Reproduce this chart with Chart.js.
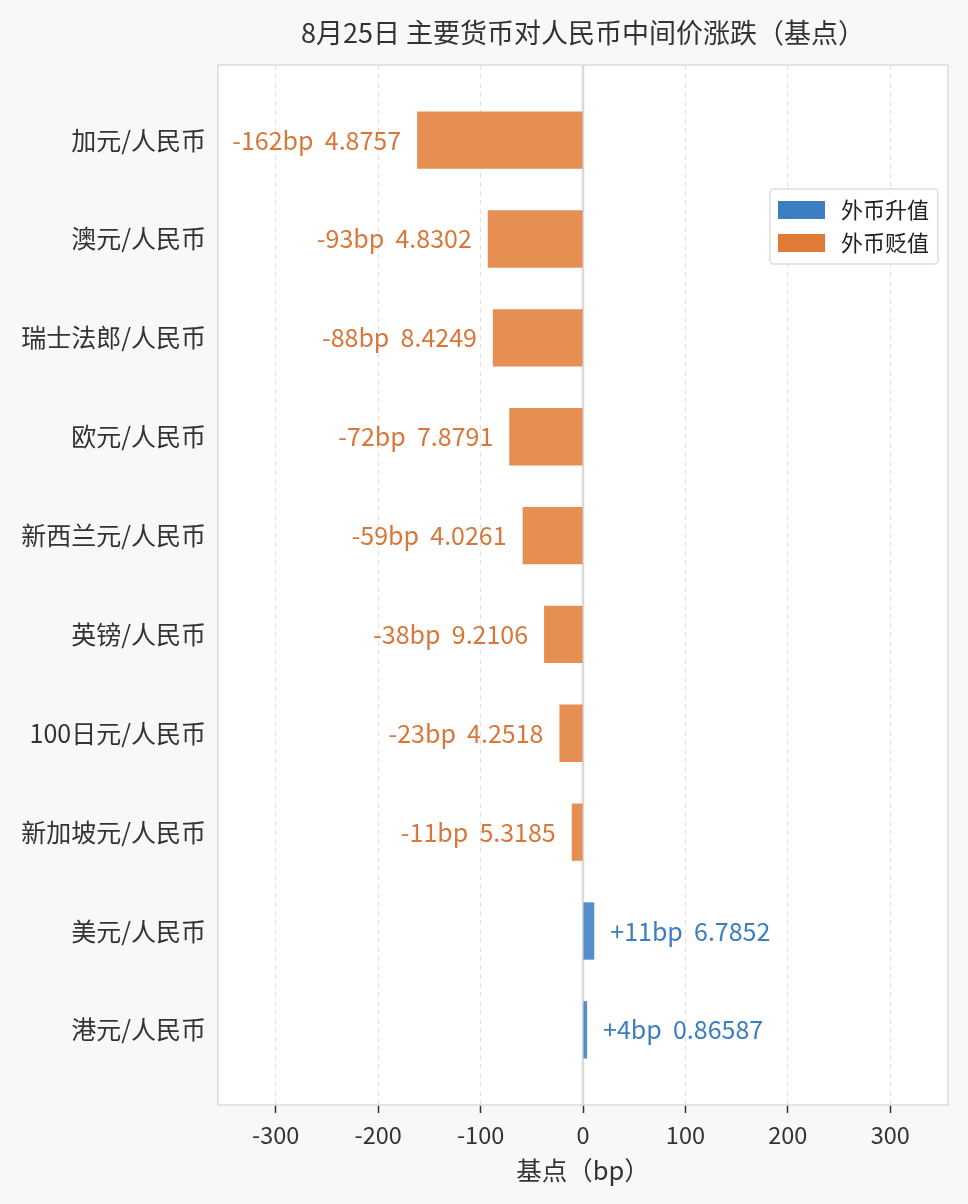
<!DOCTYPE html>
<html>
<head>
<meta charset="utf-8">
<script src="https://cdn.jsdelivr.net/npm/chart.js@4.4.1/dist/chart.umd.min.js"></script>
<style>
html,body{margin:0;padding:0;background:#f7f8fa;}
#wrap{width:968px;height:1204px;position:relative;}
</style>
</head>
<body>
<div id="wrap"><canvas id="c"></canvas></div>
<script>
const categories = ['加元/人民币','澳元/人民币','瑞士法郎/人民币','欧元/人民币','新西兰元/人民币','英镑/人民币','100日元/人民币','新加坡元/人民币','美元/人民币','港元/人民币'];
const changesBp = [-162,-93,-88,-72,-59,-38,-23,-11,11,4];
const rates = ['4.8757','4.8302','8.4249','7.8791','4.0261','9.2106','4.2518','5.3185','6.7852','0.86587'];
const xTicks = [-300,-200,-100,0,100,200,300];
const seriesNames = ['外币升值','外币贬值'];

const FONT = '"Noto Sans CJK SC","Noto Sans",sans-serif';
const upColor = '#3b7ec2', downColor = '#e07b35';
const upBar = 'rgba(59,126,194,0.88)', downBar = 'rgba(224,123,53,0.85)';
const xLim = 162*2.2;

const upData = [], downData = [];
changesBp.forEach((v,i)=>{ (v>=0?upData:downData).push({x:v,y:i}); });

const bgPlugin = {
  id:'bg',
  beforeDraw(chart){
    const {ctx,chartArea:a}=chart;
    ctx.save();
    ctx.fillStyle='#ffffff';
    ctx.fillRect(a.left,a.top,a.right-a.left,a.bottom-a.top);
    ctx.restore();
  },
  beforeDatasetsDraw(chart){
    const {ctx,chartArea:a}=chart;
    const x0=chart.scales.x.getPixelForValue(0);
    ctx.save();
    ctx.strokeStyle='#d9d9d9';
    ctx.lineWidth=2.5;
    ctx.beginPath();ctx.moveTo(x0,a.top);ctx.lineTo(x0,a.bottom);ctx.stroke();
    ctx.restore();
  },
  afterDatasetsDraw(chart){
    const {ctx,chartArea:a}=chart;
    ctx.save();
    ctx.strokeStyle='#dcdcdc';
    ctx.lineWidth=1.5;
    ctx.strokeRect(a.left,a.top,a.right-a.left,a.bottom-a.top);
    ctx.restore();
  }
};

const labelPlugin = {
  id:'vlabels',
  afterDatasetsDraw(chart){
    const {ctx}=chart;
    const xs=chart.scales.x, ys=chart.scales.y;
    ctx.save();
    ctx.font='25px '+FONT;
    ctx.textBaseline='middle';
    changesBp.forEach((v,i)=>{
      const px=xs.getPixelForValue(v), py=ys.getPixelForValue(i);
      const txt=(v>0?'+':'')+v+'bp  '+rates[i];
      if(v>=0){ctx.fillStyle=upColor;ctx.textAlign='left';ctx.fillText(txt,px+16,py);}
      else{ctx.fillStyle='#d9773a';ctx.textAlign='right';ctx.fillText(txt,px-16,py);}
    });
    ctx.restore();
  }
};

const legendPlugin = {
  id:'boxlegend',
  afterDraw(chart){
    const {ctx,chartArea:a}=chart;
    const w=168,h=75;
    const x=a.right-10-w, y=189;
    ctx.save();
    ctx.fillStyle='rgba(255,255,255,0.9)';
    ctx.strokeStyle='#dddddd';
    ctx.lineWidth=1.5;
    const r=4;
    ctx.beginPath();
    ctx.moveTo(x+r,y);ctx.lineTo(x+w-r,y);ctx.quadraticCurveTo(x+w,y,x+w,y+r);
    ctx.lineTo(x+w,y+h-r);ctx.quadraticCurveTo(x+w,y+h,x+w-r,y+h);
    ctx.lineTo(x+r,y+h);ctx.quadraticCurveTo(x,y+h,x,y+h-r);
    ctx.lineTo(x,y+r);ctx.quadraticCurveTo(x,y,x+r,y);ctx.closePath();
    ctx.fill();ctx.stroke();
    ctx.font='22px '+FONT;
    ctx.textBaseline='middle';
    ctx.textAlign='left';
    chart.data.datasets.forEach((ds,k)=>{
      const cy=y+21+k*33;
      ctx.fillStyle=ds.legendColor;
      ctx.fillRect(x+8,cy-9,47,18);
      ctx.fillStyle='#222';
      ctx.fillText(ds.label,x+71,cy);
    });
    ctx.restore();
  }
};

new Chart(document.getElementById('c'),{
  type:'bar',
  data:{
    datasets:[
      {label:seriesNames[0],data:upData,backgroundColor:upBar,legendColor:upColor,grouped:false,barPercentage:0.58,categoryPercentage:1},
      {label:seriesNames[1],data:downData,backgroundColor:downBar,legendColor:downColor,grouped:false,barPercentage:0.58,categoryPercentage:1}
    ]
  },
  options:{
    indexAxis:'y',
    responsive:true,
    maintainAspectRatio:false,
    animation:false,
    layout:{padding:{left:0,right:20,top:0,bottom:0}},
    plugins:{
      legend:{display:false},
      tooltip:{enabled:false},
      title:{display:true,text:'8月25日 主要货币对人民币中间价涨跌（基点）',fullSize:false,color:'#333',
        font:{family:FONT,size:27,weight:'normal'},padding:{top:17,bottom:15.6}}
    },
    scales:{
      x:{
        type:'linear',min:-xLim,max:xLim,
        afterBuildTicks(s){s.ticks=xTicks.map(v=>({value:v}));},
        afterFit(s){s.height=99;},
        ticks:{color:'#333',font:{family:FONT,size:23.5},padding:8},
        grid:{
          color:(c)=>c.tick&&c.tick.value===0?'rgba(0,0,0,0)':'#e0e0e0',
          lineWidth:1,
          drawTicks:true,tickLength:8,tickColor:'#333',tickWidth:1.5
        },
        border:{display:false,dash:[5,4]},
        title:{display:true,text:'基点（bp）',color:'#333',font:{family:FONT,size:25.5},padding:{top:0,bottom:18.7}}
      },
      y:{
        type:'linear',reverse:true,min:-0.76,max:9.76,offset:false,
        afterBuildTicks(s){s.ticks=categories.map((c,i)=>({value:i}));},
        afterFit(s){s.width=218;},
        ticks:{color:'#333',font:{family:FONT,size:25},padding:12,callback:(v)=>categories[v]},
        grid:{display:false,drawTicks:false},
        border:{display:false}
      }
    }
  },
  plugins:[bgPlugin,labelPlugin,legendPlugin]
});
</script>
</body>
</html>
